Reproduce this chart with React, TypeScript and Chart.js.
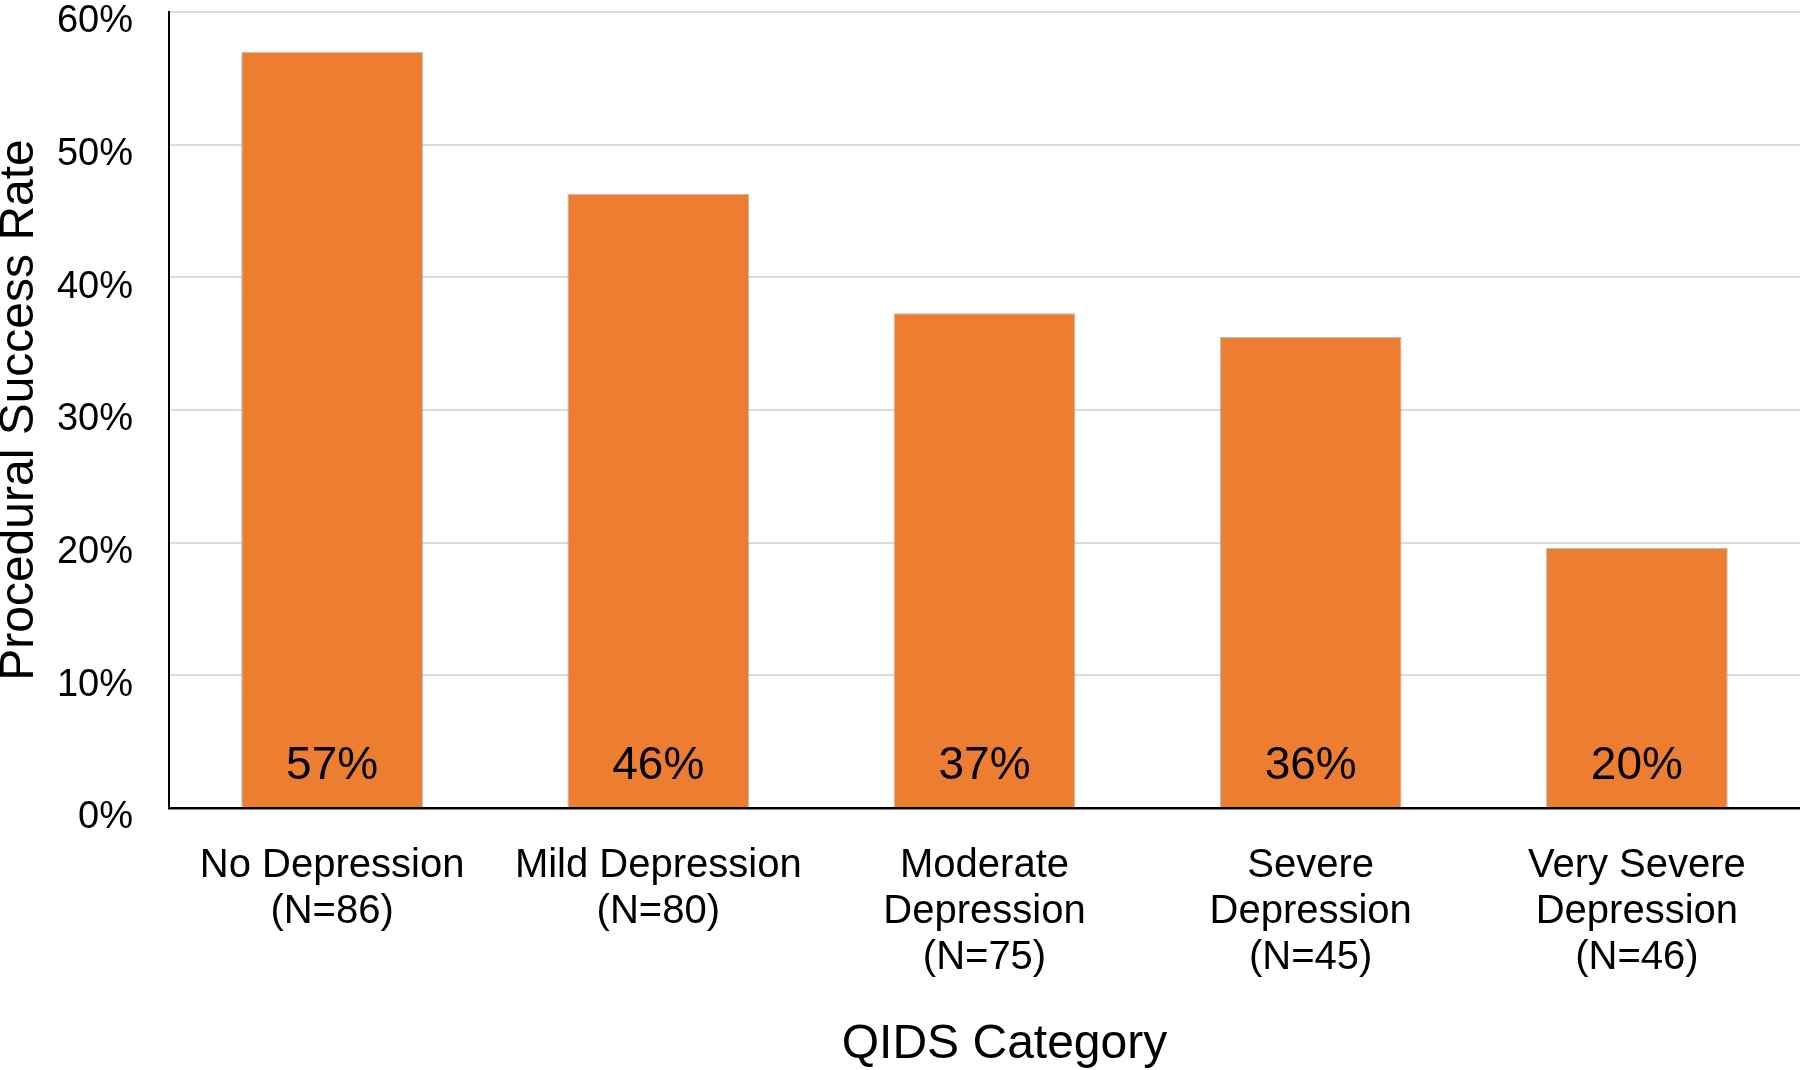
import React, { useEffect, useRef } from 'react';
import { Chart, registerables } from 'chart.js';

Chart.register(...registerables);

const categories: string[][] = [
  ['No Depression', '(N=86)'],
  ['Mild Depression', '(N=80)'],
  ['Moderate', 'Depression', '(N=75)'],
  ['Severe', 'Depression', '(N=45)'],
  ['Very Severe', 'Depression', '(N=46)'],
];
const successRates: number[] = [57.0, 46.3, 37.3, 35.5, 19.6];
const yTickValues: number[] = [0, 10, 20, 30, 40, 50, 60];
const xTitle = 'QIDS Category';
const yTitle = 'Procedural Success Rate';

const FONT = '"Liberation Sans", Arial, Helvetica, sans-serif';

const barValueLabels = {
  id: 'barValueLabels',
  afterDatasetsDraw(chart: any) {
    const { ctx } = chart;
    const meta = chart.getDatasetMeta(0);
    const base = chart.scales.y.getPixelForValue(0);
    ctx.save();
    ctx.font = `46px ${FONT}`;
    ctx.fillStyle = '#000';
    ctx.textAlign = 'center';
    ctx.textBaseline = 'alphabetic';
    meta.data.forEach((bar: any, i: number) => {
      ctx.fillText(`${Math.round(successRates[i])}%`, bar.x, base - 29);
    });
    ctx.restore();
  },
};

export default function App() {
  const canvasRef = useRef<HTMLCanvasElement | null>(null);

  useEffect(() => {
    document.body.style.margin = '0';
    const canvas = canvasRef.current;
    if (!canvas) return;
    const chart = new Chart(canvas, {
      type: 'bar',
      data: {
        labels: categories,
        datasets: [
          {
            data: successRates,
            backgroundColor: '#ED7D31',
            borderColor: 'rgba(130,130,130,0.55)',
            borderWidth: 1,
            borderSkipped: 'bottom',
            barPercentage: 0.557,
            categoryPercentage: 1,
          },
        ],
      },
      options: {
        animation: false,
        responsive: true,
        maintainAspectRatio: false,
        layout: { padding: { top: 12, left: 0, right: 0, bottom: 0 } },
        plugins: {
          legend: { display: false },
          tooltip: { enabled: false },
        },
        scales: {
          x: {
            grid: { display: false, drawTicks: false },
            border: { display: true, color: '#000', width: 2.5 },
            ticks: {
              color: '#000',
              font: { family: FONT, size: 40, lineHeight: '46px' },
              padding: 35,
              maxRotation: 0,
              minRotation: 0,
              autoSkip: false,
            },
            title: {
              display: true,
              text: '\u00A0\u00A0\u00A0' + xTitle,
              color: '#000',
              font: { family: FONT, size: 48, lineHeight: 1 },
              padding: { top: 0, bottom: 1 },
            },
            afterFit: (s: any) => {
              s.height = 262;
              s.paddingLeft = 0;
              s.paddingRight = 0;
            },
          },
          y: {
            min: 0,
            max: 60,
            afterBuildTicks: (s: any) => {
              s.ticks = yTickValues.map((v) => ({ value: v }));
            },
            grid: {
              drawTicks: false,
              lineWidth: 2,
              color: (c: any) => (c.tick && c.tick.value === 0 ? 'rgba(0,0,0,0)' : '#dcdcdc'),
            },
            border: { display: true, color: '#000', width: 2 },
            ticks: {
              color: '#000',
              font: { family: FONT, size: 38 },
              padding: 36,
              labelOffset: 10,
              callback: (v: any) => `${v}%`,
            },
            title: {
              display: true,
              text: yTitle,
              color: '#000',
              font: { family: FONT, size: 48, lineHeight: '40px' },
              padding: 0,
            },
            afterFit: (s: any) => {
              s.width = 169;
              s.paddingTop = 0;
              s.paddingBottom = 0;
            },
          },
        },
      },
      plugins: [barValueLabels],
    });
    return () => chart.destroy();
  }, []);

  return (
    <div style={{ position: 'absolute', left: 0, top: 0, width: 1800, height: 1070, background: '#fff' }}>
      <canvas ref={canvasRef} />
    </div>
  );
}
